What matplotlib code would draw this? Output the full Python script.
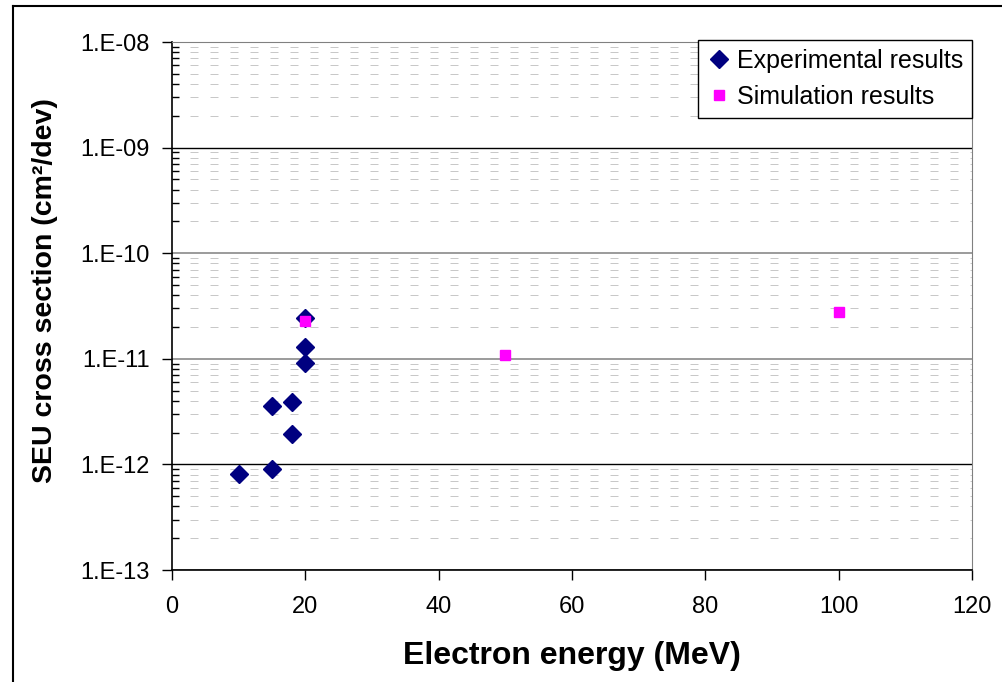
import numpy as np
import matplotlib
matplotlib.use("Agg")
import matplotlib.pyplot as plt
from matplotlib.ticker import LogLocator, FuncFormatter, NullFormatter
from matplotlib.lines import Line2D

plt.rcParams['font.family'] = ['Liberation Sans', 'DejaVu Sans']

# experimental points
exp_energy = [10, 15, 15, 18, 18, 20, 20, 20]
exp_xs = [8.2e-13, 9.0e-13, 3.6e-12, 3.9e-12, 1.95e-12, 9.2e-12, 1.3e-11, 2.45e-11]

# simulation points
sim_energy = [20, 50, 100]
sim_xs = [2.3e-11, 1.08e-11, 2.75e-11]

x_ticks = [0, 20, 40, 60, 80, 100, 120]

fig = plt.figure(figsize=(10.03, 6.82), dpi=100)
ax = fig.add_axes([172/1003, 1 - 570/682, 800/1003, 528/682])

ax.set_yscale('log')
ax.set_xlim(0, 120)
ax.set_ylim(1e-13, 1e-8)

ax.plot(exp_energy, exp_xs, linestyle='none', marker='D', markersize=9.5,
        color='#000080', label='Experimental results', zorder=3)
ax.plot(sim_energy, sim_xs, linestyle='none', marker='s', markersize=7.2,
        color='#FF00FF', label='Simulation results', zorder=4)

ax.set_xticks(x_ticks)
ax.yaxis.set_major_locator(LogLocator(base=10, numticks=10))
ax.yaxis.set_minor_locator(LogLocator(base=10, subs=np.arange(2, 10), numticks=20))
ax.yaxis.set_major_formatter(FuncFormatter(lambda v, p: "1.E-%02d" % abs(int(round(np.log10(v))))))
ax.yaxis.set_minor_formatter(NullFormatter())

ax.tick_params(axis='both', which='major', labelsize=17, direction='out', length=7, width=1, pad=12)
ax.tick_params(axis='y', which='minor', direction='in', length=5, width=1)
ax.tick_params(axis='y', which='major', pad=9)

# grid
ax.grid(True, which='minor', axis='y', color='#c8c8c8', linewidth=0.72,
        linestyle=(2, (8, 12)))
ax.grid(True, which='major', axis='y', color='#808080', linewidth=1.1, linestyle='-')
for gl, v in zip(ax.yaxis.get_gridlines(), ax.get_yticks()):
    e = int(round(np.log10(v)))
    if e in (-9, -12):
        gl.set_color('black')
        gl.set_linewidth(1.0)
ax.set_axisbelow(True)

ax.spines['top'].set_color('#808080')
ax.spines['right'].set_color('#808080')
ax.spines['left'].set_linewidth(1.2)
ax.spines['bottom'].set_linewidth(1.2)

ax.set_xlabel('Electron energy (MeV)', fontsize=23, fontweight='bold', labelpad=16)
ax.set_ylabel('SEU cross section (cm²/dev)', fontsize=20.5, fontweight='bold')
ax.yaxis.set_label_coords(-0.143, 0.53)

leg = ax.legend(loc='upper right', bbox_to_anchor=(1.0, 1.004), fontsize=18,
                numpoints=1, handlelength=1.0, handletextpad=0.2, borderpad=0.35,
                labelspacing=0.5, borderaxespad=0, fancybox=False, framealpha=1)
leg.get_frame().set_edgecolor('black')
leg.get_frame().set_linewidth(1.0)

# outer frame lines (left and top)
fig.add_artist(Line2D([13/1003, 13/1003], [0, 1 - 6/682], color='black', lw=1.5,
                      transform=fig.transFigure))
fig.add_artist(Line2D([13/1003, 1], [1 - 6/682, 1 - 6/682], color='black', lw=1.5,
                      transform=fig.transFigure))

fig.savefig('out.png', dpi=100)
